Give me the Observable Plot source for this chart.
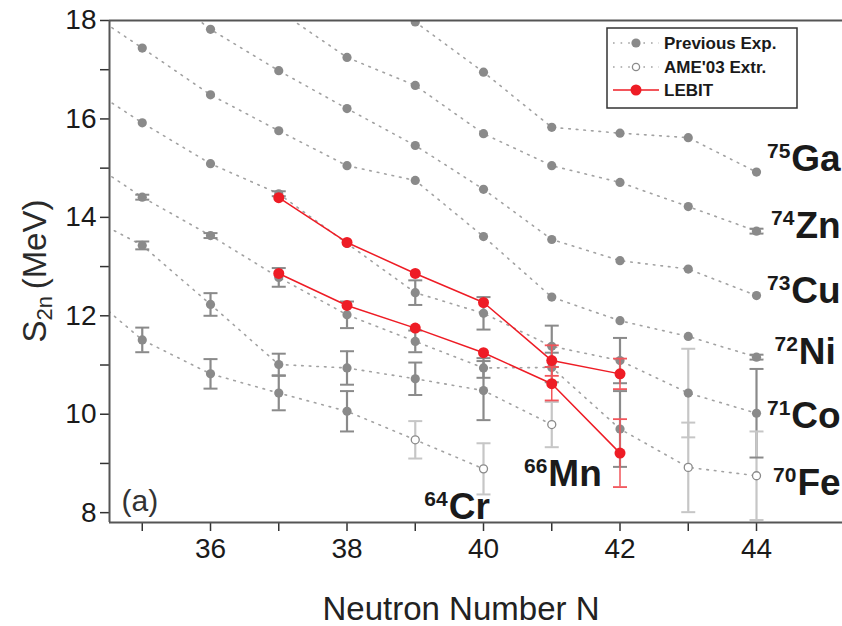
<!DOCTYPE html>
<html><head><meta charset="utf-8">
<script src="https://cdn.jsdelivr.net/npm/d3@7"></script>
<script src="https://cdn.jsdelivr.net/npm/@observablehq/plot@0.6"></script>
<style>
html,body{margin:0;padding:0;background:#fff;}
#chart{width:842px;height:626px;overflow:hidden;}
</style></head><body><div id="chart"></div>
<script>
// Neutron numbers (N=34 entries are out-of-frame points where the dotted guides enter)
const neutronN = [34, 35, 36, 37, 38, 39, 40, 41, 42, 43, 44];
// S2n (MeV), previous experiments / AME'03 per element
const Ga = [null, null, null, null, 18.97, 17.97, 16.95, 15.83, 15.71, 15.62, 14.92];
const Zn = [null, null, null, 18.2, 17.25, 16.68, 15.70, 15.05, 14.71, 14.22, 13.72];
const Cu = [null, 18.9, 17.82, 16.98, 16.21, 15.46, 14.57, 13.55, 13.12, 12.95, 12.41];
const Ni = [18.37, 17.44, 16.49, 15.76, 15.05, 14.75, 13.61, 12.38, 11.90, 11.58, 11.16];
const Co = [16.83, 15.92, 15.09, 14.48, 13.47, 12.47, 12.05, 11.38, 11.09, 10.43, 10.02];
const Fe = [15.34, 14.41, 13.63, 12.78, 12.02, 11.48, 10.94, 10.95, 9.70, 8.92, 8.75];
const Mn = [14.16, 13.43, 12.23, 11.01, 10.94, 10.72, 10.48, 9.79, null, null, null];
const Cr = [12.69, 11.51, 10.82, 10.43, 10.06, 9.48, 8.89, null, null, null, null];
// uncertainties (MeV)
const errGa = [0, 0, 0, 0, 0, 0, 0, 0, 0, 0, 0];
const errZn = [0, 0, 0, 0, 0, 0, 0, 0, 0, 0, 0.05];
const errCu = [0, 0, 0, 0, 0, 0, 0, 0, 0, 0, 0];
const errNi = [0, 0, 0, 0, 0, 0, 0, 0, 0, 0, 0.05];
const errCo = [0, 0, 0, 0.05, 0, 0.25, 0.33, 0.42, 0.46, 0.9, 0.9];
const errFe = [0, 0.05, 0.05, 0.19, 0.27, 0.22, 0.2, 0.3, 0.77, 0.91, 0.9];
const errMn = [0, 0.08, 0.23, 0.22, 0.34, 0.33, 0.6, 0.46, 0, 0, 0];
const errCr = [0, 0.25, 0.3, 0.35, 0.41, 0.38, 0.52, 0, 0, 0, 0];
const elements = ["Ga", "Zn", "Cu", "Ni", "Co", "Fe", "Mn", "Cr"];
const chainValues = [Ga, Zn, Cu, Ni, Co, Fe, Mn, Cr];
const chainErrors = [errGa, errZn, errCu, errNi, errCo, errFe, errMn, errCr];
// AME'03 extrapolated values (open symbols)
const ameExtr = [["Cr", 39], ["Cr", 40], ["Mn", 41], ["Fe", 43], ["Fe", 44]];
const lightBars = [["Co", 43]];

// LEBIT
const lebitN = [37, 38, 39, 40, 41, 42];
const lebitCo = [14.40, 13.49, 12.86, 12.27, 11.09, 10.82];
const lebitFe = [12.86, 12.21, 11.75, 11.25, 10.62, 9.21];
const lebitErrCo = [0, 0, 0, 0, 0.31, 0.31];
const lebitErrFe = [0, 0, 0, 0, 0.34, 0.69];

// isotope labels
const isoMass = ["75", "74", "73", "72", "71", "70", "66", "64"];
const isoSym = ["Ga", "Zn", "Cu", "Ni", "Co", "Fe", "Mn", "Cr"];
const isoN = [44.51, 44.57, 44.51, 44.62, 44.51, 44.60, 40.95, 39.49];
const isoS = [14.95, 13.59, 12.25, 11.03, 9.71, 8.35, 8.55, 7.88];

const legendLabels = ["Previous Exp.", "AME'03 Extr.", "LEBIT"];
const xTicks = [35, 36, 37, 38, 39, 40, 41, 42, 43, 44];
const yTicks = [8, 9, 10, 11, 12, 13, 14, 15, 16, 17, 18];
const xDomain = [34.52, 45.26];
const yDomain = [7.8, 18];

const isIn = (list, el, n) => list.some(([e, m]) => e === el && m === n);
const rows = [];
elements.forEach((el, k) => {
  chainValues[k].forEach((v, i) => {
    if (v == null) return;
    const n = neutronN[i];
    rows.push({el, N: n, S: v, err: chainErrors[k][i], open: isIn(ameExtr, el, n), light: isIn(ameExtr, el, n) || isIn(lightBars, el, n)});
  });
});
const errRows = rows.filter(d => d.err > 0);
const capRows = errRows.flatMap(d => [{...d, y: d.S - d.err}, {...d, y: d.S + d.err}]);

const lebitRows = [];
lebitN.forEach((n, i) => {
  lebitRows.push({el: "Co", N: n, S: lebitCo[i], err: lebitErrCo[i]});
  lebitRows.push({el: "Fe", N: n, S: lebitFe[i], err: lebitErrFe[i]});
});
const lebitErr = lebitRows.filter(d => d.err > 0);
const lebitCaps = lebitErr.flatMap(d => [{...d, y: d.S - d.err}, {...d, y: d.S + d.err}]);

const isoRows = isoSym.map((s, i) => ({sym: s, mass: isoMass[i], N: isoN[i], S: isoS[i]}));

const GRAY = "#8a8a8a", LIGHT = "#c6c6c6", DOT = "#a2a2a2", RED = "#ee1c25", RED_BAR = "#f2555b";
const capSymbol = {draw(ctx, size) { const w = Math.sqrt(size / Math.PI); ctx.moveTo(-w, 0); ctx.lineTo(w, 0); }};

const plot = Plot.plot({
  width: 842, height: 626,
  marginLeft: 109, marginRight: 0, marginTop: 20, marginBottom: 104,
  x: {domain: xDomain},
  y: {domain: yDomain},
  style: {fontFamily: "'Liberation Sans', Arial, sans-serif", background: "#fff", color: "#222"},
  marks: [
    Plot.axisX(xTicks, {tickFormat: d => d % 2 === 0 ? String(d) : "", tickSize: 9, tickPadding: 7, fontSize: 28, label: null, stroke: "#333", strokeWidth: 1.5, fill: "#1a1a1a"}),
    Plot.axisY(yTicks, {tickFormat: d => d % 2 === 0 ? String(d) : "", tickSize: 9, tickPadding: 4, fontSize: 28, label: null, stroke: "#333", strokeWidth: 1.5, fill: "#1a1a1a"}),
    // dotted guides
    Plot.line(rows, {x: "N", y: "S", z: "el", stroke: DOT, strokeWidth: 1.6, strokeDasharray: "1.6,6", clip: true}),
    // error bars
    Plot.ruleX(errRows, {x: "N", y1: d => d.S - d.err, y2: d => d.S + d.err, stroke: d => d.light ? LIGHT : GRAY, strokeWidth: 2.2, clip: true}),
    Plot.dot(capRows, {x: "N", y: "y", r: 7, symbol: capSymbol, stroke: d => d.light ? LIGHT : GRAY, strokeWidth: 2, clip: true}),
    // points
    Plot.dot(rows.filter(d => !d.open), {x: "N", y: "S", r: 4.6, fill: GRAY, clip: true}),
    Plot.dot(rows.filter(d => d.open), {x: "N", y: "S", r: 4, fill: "#fff", stroke: GRAY, strokeWidth: 1.3, clip: true}),
    // LEBIT
    Plot.ruleX(lebitErr, {x: "N", y1: d => d.S - d.err, y2: d => d.S + d.err, stroke: RED_BAR, strokeWidth: 1.5}),
    Plot.dot(lebitCaps, {x: "N", y: "y", r: 7, symbol: capSymbol, stroke: RED_BAR, strokeWidth: 1.8}),
    Plot.line(lebitRows, {x: "N", y: "S", z: "el", stroke: RED, strokeWidth: 1.5}),
    Plot.dot(lebitRows, {x: "N", y: "S", r: 5.5, fill: RED}),
    // frame
    Plot.ruleY([yDomain[1]], {stroke: "#555", strokeWidth: 2}),
    Plot.ruleY([yDomain[0]], {stroke: "#555", strokeWidth: 2}),
    Plot.ruleX([xDomain[0]], {stroke: "#555", strokeWidth: 2}),
    // isotope labels
    Plot.text(isoRows, {x: "N", y: "S", text: "sym", textAnchor: "start", lineAnchor: "bottom", fontSize: 37, fontWeight: "bold", fill: "#1a1a1a"}),
    Plot.text(isoRows, {x: "N", y: "S", text: "mass", textAnchor: "end", lineAnchor: "bottom", dx: -1, dy: -13, fontSize: 21, fontWeight: "bold", fill: "#1a1a1a"}),
    // panel label and x title
    Plot.text(["(a)"], {frameAnchor: "bottom-left", textAnchor: "start", lineAnchor: "bottom", dx: 12, dy: -12, fontSize: 30, fill: "#333"}),
    Plot.text(["Neutron Number N"], {frameAnchor: "bottom", lineAnchor: "bottom", dx: -15, dy: 97, fontSize: 33, fill: "#222"})
  ]
});
document.getElementById("chart").appendChild(plot);

const svg = d3.select(plot);
// y-axis title with subscript
const yt = svg.append("text").attr("transform", "translate(46,271) rotate(-90)").attr("text-anchor", "middle")
  .attr("font-size", 33).attr("fill", "#2a2a2a");
yt.append("tspan").text("S");
yt.append("tspan").attr("font-size", 22).attr("dy", 6).text("2n");
yt.append("tspan").attr("dy", -6).text("\u2009(MeV)");

// legend
const lg = svg.append("g");
lg.append("rect").attr("x", 607).attr("y", 28).attr("width", 190).attr("height", 80)
  .attr("fill", "#fff").attr("stroke", "#333").attr("stroke-width", 1.5);
const ly = [43, 67, 90];
legendLabels.forEach((lab, i) => {
  const y = ly[i];
  if (i < 2) {
    lg.append("line").attr("x1", 613).attr("x2", 659).attr("y1", y).attr("y2", y)
      .attr("stroke", DOT).attr("stroke-width", 1.6).attr("stroke-dasharray", "1.6,6");
  } else {
    lg.append("line").attr("x1", 613).attr("x2", 659).attr("y1", y).attr("y2", y)
      .attr("stroke", RED).attr("stroke-width", 1.5);
  }
  if (i === 0) lg.append("circle").attr("cx", 636).attr("cy", y).attr("r", 4.6).attr("fill", GRAY);
  if (i === 1) lg.append("circle").attr("cx", 636).attr("cy", y).attr("r", 3.6).attr("fill", "#fff").attr("stroke", GRAY).attr("stroke-width", 1.3);
  if (i === 2) lg.append("circle").attr("cx", 636).attr("cy", y).attr("r", 5.5).attr("fill", RED);
  lg.append("text").attr("x", 664).attr("y", y).attr("dy", "0.36em").attr("font-size", 17)
    .attr("text-anchor", "start").attr("font-weight", "bold").attr("fill", "#1a1a1a").text(lab);
});
</script>
</body></html>
